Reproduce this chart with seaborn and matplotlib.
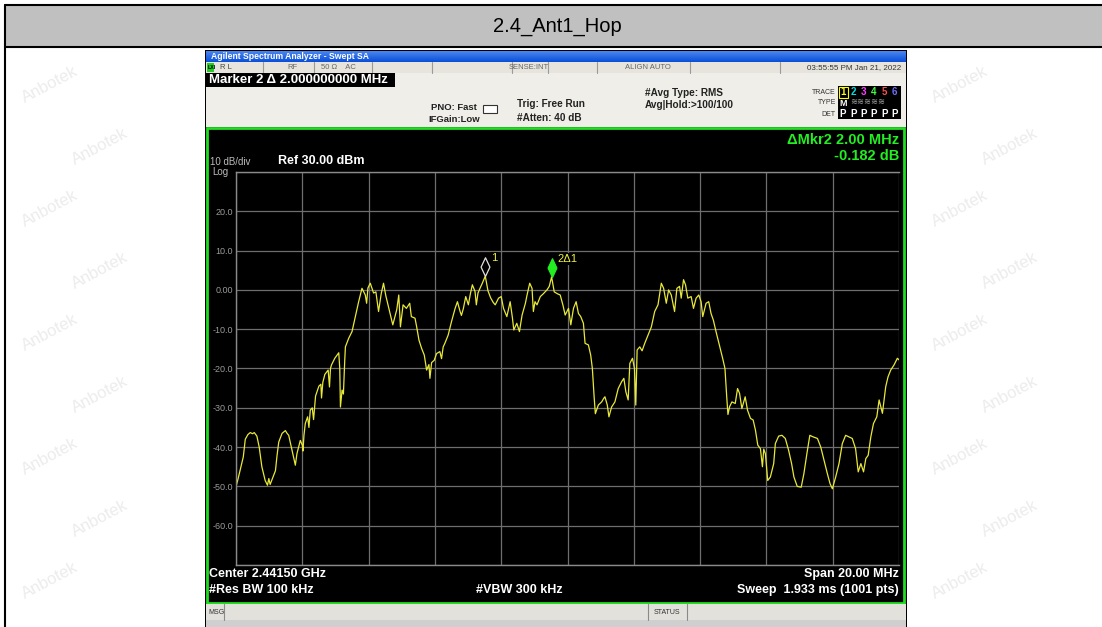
import numpy as np
import pandas as pd
import seaborn as sns
import matplotlib.pyplot as plt
from matplotlib.patches import Rectangle
from matplotlib.path import Path

# analyzer settings
center_ghz = 2.4415
span_mhz = 20.0

# trace (offset from center in MHz, level in dBm)
freq_offset_mhz = [
    -10.00, -9.95, -9.87, -9.78, -9.72, -9.64, -9.57, -9.50, -9.45, -9.37,
    -9.30, -9.22, -9.12, -9.05, -9.01, -8.97, -8.90, -8.81, -8.76, -8.71,
    -8.61, -8.51, -8.46, -8.41, -8.31, -8.21, -8.16, -8.06, -8.00, -7.98,
    -7.95, -7.91, -7.84, -7.80, -7.76, -7.70, -7.66, -7.60, -7.50, -7.44,
    -7.42, -7.38, -7.32, -7.22, -7.18, -7.15, -7.12, -7.02, -6.90, -6.87,
    -6.85, -6.80, -6.76, -6.72, -6.70, -6.60, -6.50, -6.40, -6.30, -6.20,
    -6.10, -6.06, -6.02, -5.95, -5.85, -5.78, -5.70, -5.62, -5.55, -5.48,
    -5.40, -5.32, -5.27, -5.15, -5.09, -5.04, -4.96, -4.86, -4.76, -4.71,
    -4.60, -4.55, -4.48, -4.40, -4.32, -4.25, -4.18, -4.15, -4.10, -4.02,
    -3.95, -3.85, -3.80, -3.75, -3.70, -3.60, -3.50, -3.39, -3.32, -3.24,
    -3.20, -3.14, -3.07, -2.99, -2.93, -2.87, -2.79, -2.75, -2.70, -2.64,
    -2.57, -2.48, -2.40, -2.32, -2.24, -2.18, -2.08, -2.00, -1.93, -1.83,
    -1.73, -1.66, -1.62, -1.53, -1.45, -1.37, -1.27, -1.22, -1.14, -1.07,
    -1.03, -0.98, -0.92, -0.82, -0.72, -0.62, -0.55, -0.48, -0.40, -0.30,
    -0.22, -0.14, -0.07, 0.03, 0.10, 0.18, 0.26, 0.33, 0.40, 0.48,
    0.53, 0.63, 0.70, 0.75, 0.80, 0.84, 0.93, 1.03, 1.10, 1.13,
    1.20, 1.25, 1.33, 1.43, 1.53, 1.63, 1.70, 1.76, 1.83, 1.88,
    1.96, 2.02, 2.06, 2.10, 2.18, 2.25, 2.33, 2.43, 2.53, 2.63,
    2.73, 2.83, 2.90, 2.98, 3.05, 3.13, 3.23, 3.30, 3.38, 3.43,
    3.50, 3.56, 3.63, 3.73, 3.80, 3.88, 3.96, 4.03, 4.08, 4.18,
    4.26, 4.33, 4.40, 4.48, 4.58, 4.68, 4.75, 4.80, 4.84, 4.89,
    4.96, 5.06, 5.13, 5.19, 5.26, 5.36, 5.43, 5.52, 5.60, 5.67,
    5.74, 5.82, 5.88, 5.92, 5.97, 6.04, 6.12, 6.22, 6.27, 6.37,
    6.47, 6.57, 6.67, 6.76, 6.83, 6.93, 7.05, 7.13, 7.23, 7.31,
    7.41, 7.54, 7.64, 7.74, 7.84, 7.92, 7.99, 8.09, 8.19, 8.29,
    8.39, 8.49, 8.59, 8.69, 8.77, 8.85, 8.93, 9.00, 9.07, 9.15,
    9.23, 9.33, 9.40, 9.50, 9.60, 9.67, 9.75, 9.85, 9.95, 10.00,
]
level_dbm = [
    -50.0, -48.5, -45.7, -42.5, -38.0, -36.8, -36.3, -36.6, -36.3, -37.2,
    -40.0, -45.0, -48.5, -49.7, -48.0, -49.5, -48.0, -46.0, -42.0, -38.7,
    -36.5, -35.8, -36.5, -37.0, -40.8, -44.6, -41.6, -38.3, -39.5, -41.0,
    -37.0, -34.0, -32.3, -35.0, -30.6, -30.0, -33.0, -27.0, -24.5, -24.0,
    -27.5, -23.5, -21.5, -20.4, -24.7, -20.0, -19.1, -17.4, -16.0, -20.0,
    -29.8, -25.5, -26.5, -18.0, -14.5, -12.3, -10.6, -6.8, -3.0, 0.4,
    -1.3, -3.4, 0.5, 1.7, -0.8, -0.5, -5.5, -1.0, 1.7, -1.5,
    -4.3, -7.0, -8.9, -5.0, -1.3, -9.4, -3.8, -4.7, -3.4, -6.8,
    -7.2, -9.4, -12.8, -14.9, -16.6, -20.4, -19.0, -22.5, -18.5, -17.9,
    -16.2, -15.7, -17.5, -14.5, -13.6, -11.5, -8.1, -4.7, -3.0, -5.5,
    -6.5, -4.7, -1.7, -3.8, -1.0, 1.3, -0.4, -3.8, -0.8, 0.4,
    1.7, 3.5, -0.2, -2.0, -3.2, -3.8, -2.1, -1.7, -4.7, -6.8,
    -3.0, -7.2, -10.2, -8.5, -10.6, -6.4, -3.4, -1.3, 1.7, 0.4,
    -5.5, -3.0, -3.8, -1.7, -0.9, 0.0, 0.9, 3.318, -0.5, -1.0,
    -1.3, -3.8, -6.4, -4.7, -8.9, -4.7, -3.0, -6.0, -6.8, -8.5,
    -13.6, -14.0, -16.6, -20.0, -26.8, -31.5, -29.3, -28.5, -27.5, -27.2,
    -29.3, -32.3, -29.8, -28.5, -25.1, -23.4, -22.5, -25.9, -28.0, -18.7,
    -17.4, -20.0, -29.3, -15.3, -14.5, -15.5, -13.6, -11.5, -9.4, -5.5,
    -3.8, 1.7, 0.4, -3.4, 0.0, -1.3, -5.5, 0.4, 0.9, -2.1,
    2.6, 1.3, -2.1, -1.7, -4.7, -2.1, -1.3, -3.0, -6.8, -3.4,
    -3.0, -6.0, -7.7, -10.6, -14.0, -17.4, -20.0, -26.8, -31.7, -29.7,
    -28.5, -28.9, -25.1, -26.3, -30.2, -27.2, -30.6, -32.7, -33.1, -35.7,
    -39.5, -40.4, -45.0, -40.5, -41.7, -48.5, -47.6, -44.2, -39.1, -37.2,
    -37.0, -37.8, -40.8, -44.2, -47.6, -50.0, -50.2, -46.8, -41.2, -37.0,
    -37.4, -37.8, -40.0, -43.4, -46.8, -49.3, -50.6, -47.6, -44.2, -39.1,
    -37.0, -37.4, -37.8, -40.4, -46.3, -44.2, -46.3, -42.9, -42.1, -37.4,
    -34.0, -32.3, -28.0, -31.4, -24.6, -22.1, -20.4, -19.1, -17.4, -17.8,
]

# markers
marker_names = ['1', '2\u03941']
marker_offset_mhz = [-2.48, -0.48]
marker_level_dbm = [3.5, 3.318]

y_ticks = [30, 20, 10, 0, -10, -20, -30, -40, -50, -60, -70]
y_tick_labels = ['', '20.0', '10.0', '0.00', '-10.0', '-20.0', '-30.0', '-40.0', '-50.0', '-60.0', '']

df = pd.DataFrame({'freq': center_ghz + np.array(freq_offset_mhz) / 1000.0,
                   'level': level_dbm})

sns.set_style('white')
plt.rcParams['font.family'] = ['Liberation Sans', 'DejaVu Sans']

W, H = 1102, 627
fig = plt.figure(figsize=(W / 100, H / 100), dpi=100)
fig.patch.set_facecolor('white')

# background axes in pixel coordinates (y down)
bg = fig.add_axes([0, 0, 1, 1])
bg.set_xlim(0, W)
bg.set_ylim(H, 0)
bg.axis('off')


def box(x0, y0, x1, y1, fc, ec='none', lw=0, z=1):
    bg.add_patch(Rectangle((x0, y0), x1 - x0, y1 - y0, fc=fc, ec=ec, lw=lw, zorder=z))


def txt(x, y, s, size=7, color='black', weight='normal', ha='left', **kw):
    bg.text(x, y, s, fontsize=size, color=color, fontweight=weight, ha=ha, va='center', zorder=5, **kw)


# watermark
for row, yy in enumerate(range(85, 610, 62)):
    shift = 50 if row % 2 else 0
    for xx in [50 + shift, 960 + shift]:
        bg.text(xx, yy, 'Anbotek', fontsize=12, color='#ececec', rotation=28,
                ha='center', va='center', zorder=0)

# table header
box(5, 5, W, 47, '#c0c0c0', z=1)
bg.plot([4.5, W], [5, 5], color='black', lw=1.5, zorder=2)
bg.plot([4.5, W], [47, 47], color='black', lw=1.5, zorder=2)
bg.plot([4.5, 4.5], [5, H], color='black', lw=1.5, zorder=2)
txt(557, 27, '2.4_Ant1_Hop', size=14.5, ha='center')

# screenshot frame
box(205, 50, 907, H, 'black', z=1)
grad = np.linspace(0, 1, 20).reshape(-1, 1)
bg.imshow(grad, extent=(206, 906, 62, 51), cmap=sns.blend_palette(['#4a86f0', '#0a4fd8'], as_cmap=True),
          aspect='auto', zorder=2)
txt(211, 56.5, 'Agilent Spectrum Analyzer - Swept SA', size=6.2, color='white', weight='bold')

# status row
box(206, 62, 906, 73, '#e6e4dc', z=2)
for xd in [263, 314, 372, 432, 512, 548, 597, 690, 780]:
    bg.plot([xd, xd], [62, 73], color='#9a9a9a', lw=0.8, zorder=3)
box(207, 63, 214, 72, '#22cc22', z=3)
txt(207.5, 67.5, 'LXI', size=3.8, color='black', weight='bold')
txt(220, 67.5, 'R L', size=5.5, color='#444444')
txt(287, 67.5, 'RF', size=5.5, color='#666666')
txt(321, 67.5, '50 \u03a9    AC', size=5.5, color='#666666')
txt(529, 67.5, 'SENSE:INT', size=5.5, color='#666666', ha='center')
txt(648, 67.5, 'ALIGN AUTO', size=5.5, color='#666666', ha='center')
txt(901, 67.5, '03:55:55 PM Jan 21, 2022', size=5.8, color='#333333', ha='right')

# settings area
box(206, 73, 906, 127, '#efeee8', z=2)
box(206, 73, 395, 87, 'black', z=3)
txt(209, 80, 'Marker 2 \u0394 2.000000000 MHz', size=9.5, color='white', weight='bold')
txt(431, 108, 'PNO: Fast', size=6.8, weight='bold', color='#222222')
txt(428, 120, 'IFGain:Low', size=6.8, weight='bold', color='#222222')
bg.add_patch(Rectangle((483, 105), 14, 8, fc='white', ec='#333333', lw=0.8, zorder=3))
txt(517, 104, 'Trig: Free Run', size=7.2, weight='bold', color='#222222')
txt(517, 118, '#Atten: 40 dB', size=7.2, weight='bold', color='#222222')
txt(645, 93, '#Avg Type: RMS', size=7.2, weight='bold', color='#222222')
txt(645, 105, 'Avg|Hold:>100/100', size=7.2, weight='bold', color='#222222')
txt(836, 92, 'TRACE', size=5, color='#333333', ha='right')
txt(836, 103, 'TYPE', size=5, color='#333333', ha='right')
txt(836, 114, 'DET', size=5, color='#333333', ha='right')
box(838, 86, 901, 119, 'black', z=3)
trace_colors = ['#ffff00', '#00e0e0', '#ff40ff', '#40ff40', '#ff5050', '#7070ff']
for i, c in enumerate(trace_colors):
    txt(843 + i * 10.3, 92, str(i + 1), size=7, color=c, weight='bold', ha='center')
    txt(843 + i * 10.3, 114, 'P', size=7, color='white', weight='bold', ha='center')
bg.add_patch(Rectangle((838.5, 86.5), 9, 11, fc='none', ec='#ffff00', lw=0.8, zorder=6))
txt(843, 103, 'M', size=6.5, color='white', weight='bold', ha='center')
txt(850, 103, '\u224b\u224b\u224b\u224b\u224b', size=6, color='#aaaaaa')

# display frame
box(207, 128, 904, 603, 'black', ec='#22dd22', lw=2, z=2)
txt(210, 162, '10 dB/div', size=7, color='#bbbbbb')
txt(212, 172, 'Log', size=7, color='#bbbbbb')
txt(278, 161, 'Ref 30.00 dBm', size=9, color='white', weight='bold')
txt(899, 140, '\u0394Mkr2 2.00 MHz', size=10.5, color='#22ee22', weight='bold', ha='right')
txt(899, 156, '-0.182 dB', size=10.5, color='#22ee22', weight='bold', ha='right')
txt(209, 574, 'Center 2.44150 GHz', size=9, color='white', weight='bold')
txt(899, 574, 'Span 20.00 MHz', size=9, color='white', weight='bold', ha='right')
txt(209, 590, '#Res BW 100 kHz', size=9, color='white', weight='bold')
txt(519, 590, '#VBW 300 kHz', size=9, color='white', weight='bold', ha='center')
txt(899, 590, 'Sweep  1.933 ms (1001 pts)', size=9, color='white', weight='bold', ha='right')

# message bar
box(206, 604, 906, 620, '#e2e1dc', z=2)
box(206, 620, 906, H, '#cfcfcf', z=2)
for xd in [224, 648, 687]:
    bg.plot([xd, xd], [604, 620], color='#8a8a8a', lw=0.8, zorder=3)
txt(208, 612, 'MSG', size=5, color='#333333')
txt(667, 612, 'STATUS', size=5, color='#333333', ha='center')

# trace axes
x0, y0, x1, y1 = 236, 172, 899, 565
ax = fig.add_axes([x0 / W, 1 - y1 / H, (x1 - x0) / W, (y1 - y0) / H])
ax.set_facecolor('black')
sns.lineplot(data=df, x='freq', y='level', ax=ax, color='#e8e838', lw=0.9,
             estimator=None, sort=False)
ax.set_xlim(center_ghz - span_mhz / 2000, center_ghz + span_mhz / 2000)
ax.set_ylim(y_ticks[-1], y_ticks[0])
ax.set_xticks(center_ghz + np.linspace(-span_mhz / 2, span_mhz / 2, 11) / 1000)
ax.set_xticklabels([])
ax.set_yticks(y_ticks)
ax.set_yticklabels(y_tick_labels)
ax.tick_params(length=0)
ax.tick_params(axis='y', pad=2, labelsize=6.5, labelcolor='#9a9a9a')
ax.grid(True, color='#6e6e6e', lw=0.9)
for sp in ax.spines.values():
    sp.set_color('#8a8a8a')
    sp.set_linewidth(1)
ax.spines['right'].set_visible(False)
ax.set_xlabel('')
ax.set_ylabel('')

# marker diamonds sitting on their peaks
diamond = Path([(0, 0), (0.47, 1), (0, 2), (-0.47, 1), (0, 0)])
marker_faces = ['none', '#22ee22']
marker_edges = ['#e0e0e0', '#22ee22']
for name, mo, ml, fc, ec in zip(marker_names, marker_offset_mhz, marker_level_dbm, marker_faces, marker_edges):
    mf = center_ghz + mo / 1000
    ax.plot([mf], [ml], marker=diamond, ms=27, mfc=fc, mec=ec, mew=0.9, ls='none', zorder=5)
    ax.annotate(name, (mf, ml), xytext=(6, 18), textcoords='offset pixels', fontsize=8,
                color='#f0f040', va='center', ha='left',
                bbox=dict(fc='black', ec='none', pad=0.5), zorder=6)

fig.savefig('out.png', dpi=100)
